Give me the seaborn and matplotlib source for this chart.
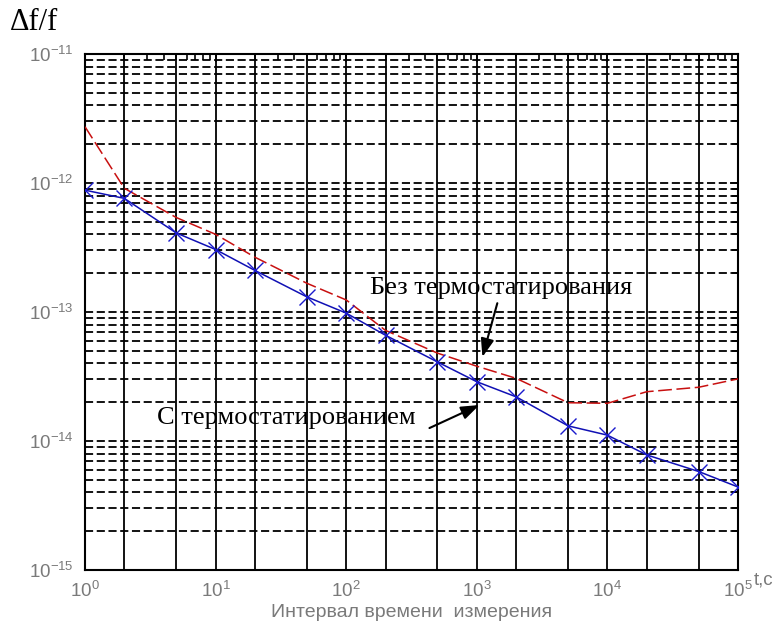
import numpy as np
import pandas as pd
import matplotlib
matplotlib.use("Agg")
import matplotlib.pyplot as plt
import matplotlib.ticker as mticker
import seaborn as sns

# ---- data ----
t_values = [1, 2, 5, 10, 20, 50, 100, 200, 500, 1000, 2000, 5000, 1e4, 2e4, 5e4, 1e5]
with_thermo = [8.8e-13, 7.6e-13, 4.1e-13, 3.05e-13, 2.1e-13, 1.31e-13, 9.8e-14, 6.6e-14,
               4.1e-14, 2.88e-14, 2.2e-14, 1.31e-14, 1.11e-14, 7.8e-15, 5.8e-15, 4.4e-15]
without_thermo = [2.73e-12, 9.1e-13, 5.4e-13, 4.0e-13, 2.66e-13, 1.67e-13, 1.24e-13, 7.2e-14,
                  4.8e-14, 3.8e-14, 3.06e-14, 1.98e-14, 1.96e-14, 2.41e-14, 2.61e-14, 3.03e-14]
xtick_vals = [1, 10, 100, 1000, 1e4, 1e5]
ytick_vals = [1e-15, 1e-14, 1e-13, 1e-12, 1e-11]
label_with = "С термостатированием"
label_without = "Без термостатирования"
xlabel = "Интервал времени  измерения"
ylabel = "Δf/f"
xunit = "t,c"

df_with = pd.DataFrame({"t": t_values, "v": with_thermo})
df_without = pd.DataFrame({"t": t_values, "v": without_thermo})

sns.set_style("white")
plt.rcParams["font.family"] = ["Liberation Sans", "DejaVu Sans"]
plt.rcParams["mathtext.fontset"] = "custom"
plt.rcParams["mathtext.rm"] = "Liberation Sans"
plt.rcParams["mathtext.it"] = "Liberation Sans"

fig = plt.figure(figsize=(7.82, 6.32), dpi=100)
ax = fig.add_axes([85 / 782, 1 - 570 / 632, (738 - 85) / 782, (570 - 54) / 632])
ax.set_xscale("log")
ax.set_yscale("log")
ax.set_xlim(1, 1e5)
ax.set_ylim(1e-15, 1e-11)

# grid: horizontal dashed at every k*10^n, vertical solid at 1,2,5 per decade
ax.yaxis.set_major_locator(mticker.FixedLocator(ytick_vals))
ax.yaxis.set_minor_locator(mticker.LogLocator(base=10, subs=np.arange(2, 10), numticks=20))
ax.xaxis.set_major_locator(mticker.FixedLocator(xtick_vals))
ax.xaxis.set_minor_locator(mticker.LogLocator(base=10, subs=np.arange(2, 10), numticks=20))
ax.yaxis.grid(True, which="both", color="black", linestyle=(0, (4.5, 2.0)), linewidth=1.3)
ax.xaxis.grid(False)
for dec in [1, 10, 100, 1000, 1e4]:
    for m in [2, 5, 10]:
        ax.axvline(dec * m, color="black", linewidth=1.3, zorder=1)
ax.set_axisbelow(True)

sns.lineplot(data=df_without, x="t", y="v", ax=ax, color="#c81010", linewidth=1.1,
             linestyle=(0, (9, 3)), zorder=3)
sns.lineplot(data=df_with, x="t", y="v", ax=ax, color="#1010b4", linewidth=1.1,
             marker="x", markersize=11, markeredgewidth=1.0, markeredgecolor="#1a1acc", zorder=4)

def fmt(v, pos):
    return r"$\mathrm{10}^{%d}$" % int(round(np.log10(v)))

ax.xaxis.set_major_formatter(mticker.FuncFormatter(fmt))
ax.yaxis.set_major_formatter(mticker.FuncFormatter(fmt))
ax.xaxis.set_minor_formatter(mticker.NullFormatter())
ax.yaxis.set_minor_formatter(mticker.NullFormatter())
ax.tick_params(which="both", direction="in", top=True, right=True, colors="black",
               labelcolor="#7a7a7a", labelsize=13.5)
ax.tick_params(which="major", length=6, width=1.2)
ax.tick_params(which="minor", length=4, width=1.2)
ax.tick_params(axis="x", pad=8)
ax.tick_params(axis="y", pad=8)

for s in ax.spines.values():
    s.set_color("black")
    s.set_linewidth(1.5)
    s.set_visible(True)

ax.set_xlabel(xlabel, color="#7a7a7a", fontsize=14, labelpad=2)
ax.set_ylabel("")
fig.text(10 / 782, 1 - 23 / 632, ylabel, family="Liberation Serif", fontsize=22,
         color="black", va="center", ha="left")
fig.text(754 / 782, 1 - 580 / 632, xunit, color="#7a7a7a", fontsize=13.5, va="center", ha="left")

ax.text(151, 1.53e-13, label_without, fontsize=19, family="Liberation Serif",
        color="black", ha="left", va="center")
ax.text(3.55, 1.51e-14, label_with, fontsize=19, family="Liberation Serif",
        color="black", ha="left", va="center")
arrow_style = dict(arrowstyle="-|>,head_length=1.1,head_width=0.4", color="black",
                   lw=1.5, shrinkA=0, shrinkB=0)
ax.annotate("", xy=(1104, 4.48e-14), xytext=(1436, 1.17e-13), arrowprops=arrow_style)
ax.annotate("", xy=(1047, 1.9e-14), xytext=(434, 1.26e-14), arrowprops=arrow_style)

fig.savefig("out.png", dpi=100, facecolor="white")
